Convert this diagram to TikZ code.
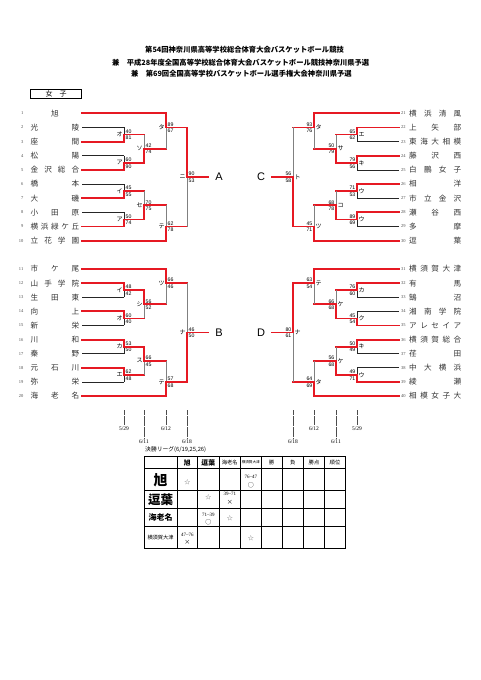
\documentclass[tikz,border=0pt]{standalone}
\usepackage{fontspec}
\setmainfont{Noto Sans CJK JP}
\newfontfamily\serifnum{Liberation Serif}
\newfontfamily\sansnum{Liberation Sans}
\usetikzlibrary{calc}
\definecolor{bred}{RGB}{230,25,35}
\tikzset{
  h-win/.style={draw=bred,line width=1.8pt,line cap=rect},
  v-win/.style={h-win},
  h-lose/.style={h-win},
  v-lose/.style={draw=black!50,line width=0.8pt},
  h-out/.style={draw=black!85,line width=0.8pt},
  v-out/.style={h-out},
  num/.style={font=\serifnum\fontsize{4.5}{5}\selectfont,text=black!70,inner sep=0pt},
  tname/.style={font=\fontsize{7.6}{9}\selectfont,text=black!80,inner sep=0pt},
  lbl/.style={font=\fontsize{6}{6}\selectfont,inner sep=0pt},
  score/.style={font=\sansnum\fontsize{5.2}{5.2}\selectfont,inner sep=0pt},
  blk/.style={font=\sansnum\fontsize{11}{11}\selectfont,inner sep=0pt},
  ttl/.style={font=\bfseries\fontsize{7.3}{7.3}\selectfont,inner sep=0pt},
  datel/.style={draw=black!70,line width=0.6pt,dash pattern=on 0.6pt off 0.5pt},
  date/.style={font=\serifnum\fontsize{5.5}{5.5}\selectfont,inner sep=0pt},
  tline/.style={draw=black,line width=1pt},
  th/.style={font=\fontsize{5.3}{5.3}\selectfont,inner sep=0pt},
  thb/.style={font=\bfseries\fontsize{6.8}{6.8}\selectfont,inner sep=0pt},
  thx/.style={font=\fontsize{3.6}{3.6}\selectfont,inner sep=0pt},
  rval/.style={font=\serifnum\fontsize{5}{5}\selectfont,inner sep=0pt},
  rmark/.style={font=\fontsize{6}{6}\selectfont,inner sep=0pt},
  rstar/.style={font=\fontsize{6}{6}\selectfont,text=black!60,inner sep=0pt}
}
\begin{document}
\begin{tikzpicture}[x=1pt,y=-1pt]
\useasboundingbox (0,0) rectangle (481,680);

% title
\node[ttl,anchor=west] (ttl1) at (145,50) {第54回神奈川県高等学校総合体育大会バスケットボール競技};
\node[ttl,anchor=west] (ttl2) at (112,62.7) {兼　平成28年度全国高等学校総合体育大会バスケットボール競技神奈川県予選};
\node[ttl,anchor=west] (ttl3) at (131,73.3) {兼　第69回全国高等学校バスケットボール選手権大会神奈川県予選};
\node[draw,line width=0.8pt,minimum width=51pt,minimum height=8.6pt,inner sep=0pt,
  font=\fontsize{7}{7}\selectfont] (sex) at (56.2,94) {女　子};

% teams, left
\foreach \i/\nm in {1/{\hfil 旭\hfil},2/{光 陵},3/{座 間},4/{松 陽},5/{金 沢 総 合},
  6/{橋 本},7/{大 磯},8/{小 田 原},9/{横 浜 緑 ケ 丘},10/{立 花 学 園}}{
  \pgfmathsetmacro\ty{113.3+(\i-1)*14.15}
  \node[num,anchor=east] (n\i) at (23.5,\ty) {\i};
  \node[tname,anchor=west] (t\i) at (30.5,\ty) {\makebox[48.5pt][s]{\nm}};
  \coordinate (s\i) at (82,\ty);
}
\foreach \i/\nm in {11/{市 ケ 尾},12/{山 手 学 院},13/{生 田 東},14/{向 上},15/{新 栄},
  16/{川 和},17/{秦 野},18/{元 石 川},19/{弥 栄},20/{海 老 名}}{
  \pgfmathsetmacro\ty{269+(\i-11)*14.12}
  \node[num,anchor=east] (n\i) at (23.5,\ty) {\i};
  \node[tname,anchor=west] (t\i) at (30.5,\ty) {\makebox[48.5pt][s]{\nm}};
  \coordinate (s\i) at (82,\ty);
}
% teams, right
\foreach \i/\nm in {21/{横 浜 清 風},22/{上 矢 部},23/{東 海 大 相 模},24/{藤 沢 西},25/{白 鵬 女 子},
  26/{相 洋},27/{市 立 金 沢},28/{瀬 谷 西},29/{多 摩},30/{逗 葉}}{
  \pgfmathsetmacro\ty{113.3+(\i-21)*14.15}
  \node[num,anchor=west] (n\i) at (401,\ty) {\i};
  \node[tname,anchor=west] (t\i) at (409,\ty) {\makebox[52pt][s]{\nm}};
  \coordinate (s\i) at (399,\ty);
}
\foreach \i/\nm in {31/{横 須 賀 大 津},32/{有 馬},33/{鵠 沼},34/{湘 南 学 院},35/{ア レ セ イ ア},
  36/{横 須 賀 総 合},37/{荏 田},38/{中 大 横 浜},39/{綾 瀬},40/{相 模 女 子 大}}{
  \pgfmathsetmacro\ty{269+(\i-31)*14.12}
  \node[num,anchor=west] (n\i) at (401,\ty) {\i};
  \node[tname,anchor=west] (t\i) at (409,\ty) {\makebox[52pt][s]{\nm}};
  \coordinate (s\i) at (399,\ty);
}

% matches, left: name/x/top/bottom/y/top style/bottom style/label/scores
\foreach \m/\mx/\mt/\mb/\my/\wt/\wb/\ml/\ka/\kb in {
  a1/124/s2/s3/134.5/out/win/オ/40/81, a2/124/s4/s5/162.8/out/win/ア/60/90,
  a3/124/s6/s7/191.1/out/win/イ/45/55, a4/124/s8/s9/219.4/out/win/ア/50/74,
  a5/144/a1/a2/148.7/lose/win/ソ/42/74, a6/144/a3/a4/205.3/lose/win/セ/70/75,
  a7/166/s1/a5/127.45/win/lose/タ/89/67, a8/166/a6/s10/226.5/lose/win/テ/62/78,
  a9/187/a7/a8/177/win/lose/ニ/90/53,
  b1/124/s12/s13/290.2/win/out/イ/48/42, b2/124/s14/s15/318.4/win/out/オ/60/40,
  b3/124/s16/s17/346.7/win/out/カ/53/50, b4/124/s18/s19/374.9/win/out/エ/62/48,
  b5/144/b1/b2/304.3/win/lose/シ/56/52, b6/144/b3/b4/360.8/win/lose/ス/66/45,
  b7/166/s11/b5/283.12/win/lose/ツ/66/46, b8/166/b6/s20/381.96/lose/win/テ/57/68,
  b9/187/b7/b8/332.5/lose/win/ナ/46/50}{
  \coordinate (\m) at (\mx,\my);
  \coordinate (\m-a) at (\mt -| \m);
  \coordinate (\m-b) at (\mb -| \m);
  \draw[h-\wt] (\mt) -- (\m-a);
  \draw[h-\wb] (\mb) -- (\m-b);
  \draw[v-\wt] (\m-a) -- (\m);
  \draw[v-\wb] (\m-b) -- (\m);
  \node[lbl,anchor=east] (\m-l) at ([xshift=-1.3pt]\m) {\ml};
  \node[score,anchor=base west] (\m-p) at ([xshift=1.5pt,yshift=1.3pt]\m) {\ka};
  \node[score,anchor=base west] (\m-q) at ([xshift=1.5pt,yshift=-5.2pt]\m) {\kb};
}
% matches, right
\foreach \m/\mx/\mt/\mb/\my/\wt/\wb/\ml/\ka/\kb in {
  c1/357/s22/s23/134.5/win/out/エ/65/62, c2/357/s24/s25/162.8/win/out/キ/79/56,
  c3/357/s26/s27/191.1/win/out/ウ/71/53, c4/357/s28/s29/219.4/win/out/ウ/89/69,
  c5/336/c1/c2/148.7/lose/win/サ/50/79, c6/336/c3/c4/205.3/lose/win/コ/68/78,
  c7/314/s21/c5/127.45/win/lose/タ/93/76, c8/314/c6/s30/226.5/lose/win/ツ/45/71,
  c9/293/c7/c8/177/lose/win/ト/56/58,
  d1/357/s32/s33/290.2/win/out/カ/76/60, d2/357/s34/s35/318.4/out/win/ク/45/54,
  d3/357/s36/s37/346.7/win/out/キ/50/49, d4/357/s38/s39/374.9/out/win/ウ/49/71,
  d5/336/d1/d2/304.3/lose/win/ケ/66/68, d6/336/d3/d4/360.8/lose/win/ケ/56/68,
  d7/314/s31/d5/283.12/win/lose/テ/63/54, d8/314/d6/s40/381.96/lose/win/タ/64/69,
  d9/293/d7/d8/332.5/win/lose/ナ/80/61}{
  \coordinate (\m) at (\mx,\my);
  \coordinate (\m-a) at (\mt -| \m);
  \coordinate (\m-b) at (\mb -| \m);
  \draw[h-\wt] (\mt) -- (\m-a);
  \draw[h-\wb] (\mb) -- (\m-b);
  \draw[v-\wt] (\m-a) -- (\m);
  \draw[v-\wb] (\m-b) -- (\m);
  \node[lbl,anchor=west] (\m-l) at ([xshift=1.3pt]\m) {\ml};
  \node[score,anchor=base east] (\m-p) at ([xshift=-1.5pt,yshift=1.3pt]\m) {\ka};
  \node[score,anchor=base east] (\m-q) at ([xshift=-1.5pt,yshift=-5.2pt]\m) {\kb};
}

% block winners
\foreach \m/\ex/\lx/\bl in {a9/208/219/A,b9/208/219/B,c9/272/261/C,d9/272/261/D}{
  \coordinate (\m-e) at (\ex,0 |- \m);
  \node[blk] (blk\bl) at (\lx,0 |- \m) {\bl};
  \draw[h-win] (\m) -- (\m-e);
}

% dates
\foreach \x/\e/\d [count=\k] in {124/425/{5/29},144/438/{6/11},166/425/{6/12},187/438/{6/18},
  293/438/{6/18},314/425/{6/12},336/438/{6/11},357/425/{5/29}}{
  \coordinate (dt\k) at (\x,410);
  \coordinate (db\k) at (\x,\e);
  \draw[datel] (dt\k) -- (db\k);
  \node[date,anchor=north] (dl\k) at ([yshift=-1.5pt]db\k) {\d};
}

% final league
\node[anchor=west,inner sep=0pt,font=\fontsize{5.8}{5.8}\selectfont] (lg) at (145,450) {決勝リーグ(6/19,25,26)};
\foreach \x in {144,177,197.5,219,240.5,261,282,303.5,324.5,345.5}
  \draw[tline] (\x,456.7) -- (\x,548.3);
\foreach \y in {456.7,468.3,490.5,508.3,526.7,548.3}
  \draw[tline] (144,\y) -- (345.5,\y);
\foreach \x/\t/\f [count=\k] in {187.25/旭/thb,208.25/逗葉/thb,229.75/海老名/th,250.75/横須賀大津/thx,
  271.5/勝/th,292.75/負/th,314/勝点/th,335/順位/th}
  \node[\f] (hd\k) at (\x,462.5) {\t};
\node[font=\bfseries\fontsize{14}{14}\selectfont,inner sep=0pt] (r1) at (160.5,480) {旭};
\node[font=\bfseries\fontsize{12.5}{12.5}\selectfont,inner sep=0pt] (r2) at (160.5,499.4) {逗葉};
\node[font=\bfseries\fontsize{8}{8}\selectfont,inner sep=0pt] (r3) at (160.5,517.5) {海老名};
\node[font=\fontsize{5.2}{5.2}\selectfont,inner sep=0pt] (r4) at (160.5,537.5) {横須賀大津};
% results
\node[rstar] (e11) at (187.25,482) {☆};
\node[rval] (e14) at (250.75,476.5) {76–47};
\node[rmark] (m14) at (250.75,485.5) {○};
\node[rstar] (e22) at (208.25,497.5) {☆};
\node[rval] (e23) at (229.75,494) {39–71};
\node[rmark] (m23) at (229.75,502.7) {×};
\node[rval] (e32) at (208.25,514.5) {71–39};
\node[rmark] (m32) at (208.25,522) {○};
\node[rstar] (e33) at (229.75,518) {☆};
\node[rval] (e41) at (187.25,534.5) {47–76};
\node[rmark] (m41) at (187.25,542.3) {×};
\node[rstar] (e44) at (250.75,538.3) {☆};
\end{tikzpicture}
\end{document}
